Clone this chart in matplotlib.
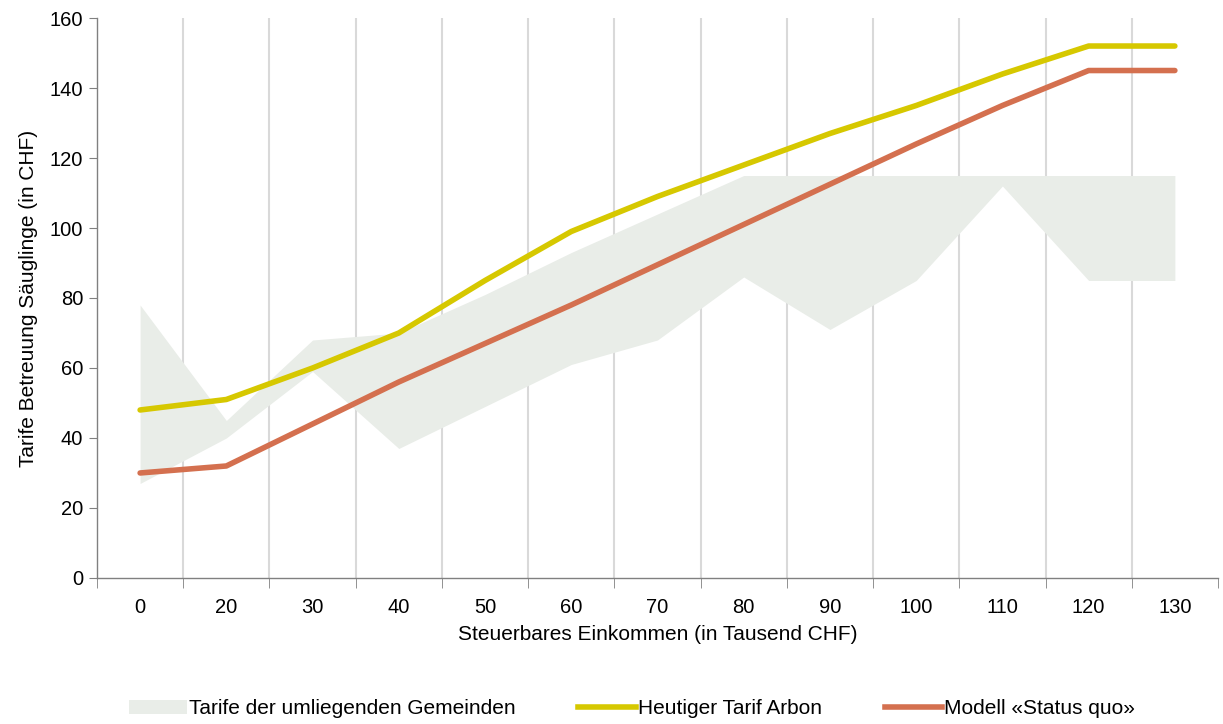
import numpy as np
import matplotlib.pyplot as plt
from matplotlib.patches import Patch
from matplotlib.lines import Line2D

plt.rcParams['font.family'] = ['Liberation Sans', 'DejaVu Sans']

categories = ['0', '20', '30', '40', '50', '60', '70', '80', '90', '100', '110', '120', '130']
band_low = [27, 40, 59, 37, 49, 61, 68, 86, 71, 85, 112, 85, 85]
band_high = [78, 45, 68, 70, 81, 93, 104, 115, 115, 115, 115, 115, 115]
tarif_arbon = [48, 51, 60, 70, 85, 99, 109, 118, 127, 135, 144, 152, 152]
status_quo = [30, 32, 44, 56, 67, 78, 89.5, 101, 112.5, 124, 135, 145, 145]

c_band = '#E9EDE8'
c_yellow = '#D6C800'
c_red = '#D4704F'
fs = 15

fig = plt.figure(figsize=(12.23, 7.24), dpi=100)
ax = fig.add_axes([0.0793, 0.2017, 0.9166, 0.7734])

x = np.arange(len(categories))
ax.fill_between(x, band_low, band_high, color=c_band, linewidth=0, zorder=1)
ax.plot(x, tarif_arbon, color=c_yellow, lw=4, solid_capstyle='round', zorder=3)
ax.plot(x, status_quo, color=c_red, lw=4, solid_capstyle='round', zorder=3)

ax.set_xlim(-0.5, len(categories) - 0.5)
ax.set_ylim(0, 160)
ax.set_yticks(range(0, 161, 20))
ax.set_xticks(x)
ax.set_xticklabels(categories)
ax.set_xticks(np.arange(-0.5, len(categories)), minor=True)
ax.tick_params(axis='x', which='major', length=0, pad=14.5, labelsize=14.5)
ax.tick_params(axis='x', which='minor', length=7, color='#808080', direction='out')
ax.tick_params(axis='y', length=6, color='#808080', labelsize=14.5, pad=4)

for b in np.arange(0.5, len(categories) - 1):
    ax.axvline(b, color='#D9D9D9', lw=1.5, zorder=0)

for s in ['top', 'right']:
    ax.spines[s].set_visible(False)
for s in ['left', 'bottom']:
    ax.spines[s].set_color('#808080')
    ax.spines[s].set_linewidth(1)

ax.set_xlabel('Steuerbares Einkommen (in Tausend CHF)', fontsize=fs, labelpad=6)
ax.set_ylabel('Tarife Betreuung Säuglinge (in CHF)', fontsize=fs, labelpad=8)

handles = [Patch(facecolor=c_band, edgecolor='none'),
           Line2D([0], [0], color=c_yellow, lw=4),
           Line2D([0], [0], color=c_red, lw=4)]
labels = ['Tarife der umliegenden Gemeinden', 'Heutiger Tarif Arbon', 'Modell «Status quo»']
fig.legend(handles, labels, loc='lower center', bbox_to_anchor=(0.517, -0.018), ncol=3,
           frameon=False, fontsize=fs, handlelength=2.75, handletextpad=0.1, columnspacing=3.03)

fig.savefig('out.png', dpi=100)
